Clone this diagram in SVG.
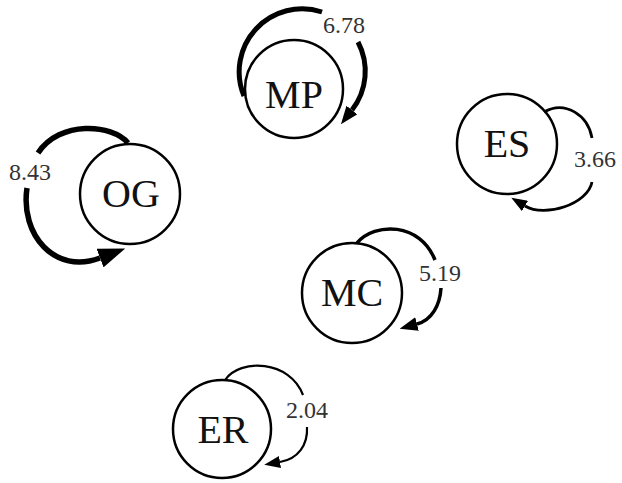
<svg xmlns="http://www.w3.org/2000/svg" width="622" height="483" viewBox="0 0 622 483">
<style>
.node circle{fill:#fff;stroke:#000;stroke-width:2.5}
.node text{font-family:"Liberation Serif","Times New Roman",serif;font-size:40px;fill:#111;text-anchor:middle}
.edge path{fill:none;stroke:#000}
.lbl{font-family:"Liberation Serif","Times New Roman",serif;font-size:24px;fill:#333}
</style>
<defs>
<marker id="ah" markerUnits="userSpaceOnUse" markerWidth="18" markerHeight="14" refX="0" refY="7" orient="auto"><path d="M0,0 L18,7 L0,14 z" fill="#000"/></marker>
<marker id="ahs" markerUnits="userSpaceOnUse" markerWidth="16" markerHeight="12" refX="0" refY="6" orient="auto"><path d="M0,0 L16,6 L0,12 z" fill="#000"/></marker>
<marker id="ahl" markerUnits="userSpaceOnUse" markerWidth="27" markerHeight="20" refX="0" refY="10" orient="auto"><path d="M0,0 L27,10 L0,20 z" fill="#000"/></marker>
</defs>
<g id="nodes">
<g id="MP" class="node"><circle cx="294" cy="89" r="49"/><text x="294" y="108">MP</text></g>
<g id="OG" class="node"><circle cx="130" cy="194" r="50"/><text x="131" y="207">OG</text></g>
<g id="ES" class="node"><circle cx="507" cy="144" r="50"/><text x="507" y="157">ES</text></g>
<g id="MC" class="node"><circle cx="352" cy="293" r="50"/><text x="352" y="306">MC</text></g>
<g id="ER" class="node"><circle cx="222" cy="429" r="49"/><text x="223" y="443">ER</text></g>
</g>
<g id="connectors">
<g id="e-MP" class="edge">
<path d="M244,96 A63,63 0 0 1 322,12" stroke-width="5"/>
<path d="M358,42 A63,63 0 0 1 352,110" stroke-width="5" marker-end="url(#ah)"/>
<text class="lbl" x="323" y="33">6.78</text>
</g>
<g id="e-OG" class="edge">
<path d="M128,143 C112,124 60,120 38,153" stroke-width="5.5"/>
<path d="M27,188 C20,235 55,275 100,258" stroke-width="5.5" marker-end="url(#ahl)"/>
<text class="lbl" x="9" y="180">8.43</text>
</g>
<g id="e-ES" class="edge">
<path d="M544,112 C565,100 588,115 592,138" stroke-width="2.8"/>
<path d="M592,182 C588,204 545,218 525,206" stroke-width="2.8" marker-end="url(#ahs)"/>
<text class="lbl" x="574" y="167">3.66</text>
</g>
<g id="e-MC" class="edge">
<path d="M357,243 C375,222 420,222 435,260" stroke-width="3.5"/>
<path d="M441,288 C440,305 432,320 417,324" stroke-width="3.5" marker-end="url(#ah)"/>
<text class="lbl" x="419" y="281">5.19</text>
</g>
<g id="e-ER" class="edge">
<path d="M225,380 C240,358 290,360 303,395" stroke-width="2.2"/>
<path d="M307,427 C308,445 298,459 280,462" stroke-width="2.2" marker-end="url(#ahs)"/>
<text class="lbl" x="286" y="418">2.04</text>
</g>
</g>
</svg>
